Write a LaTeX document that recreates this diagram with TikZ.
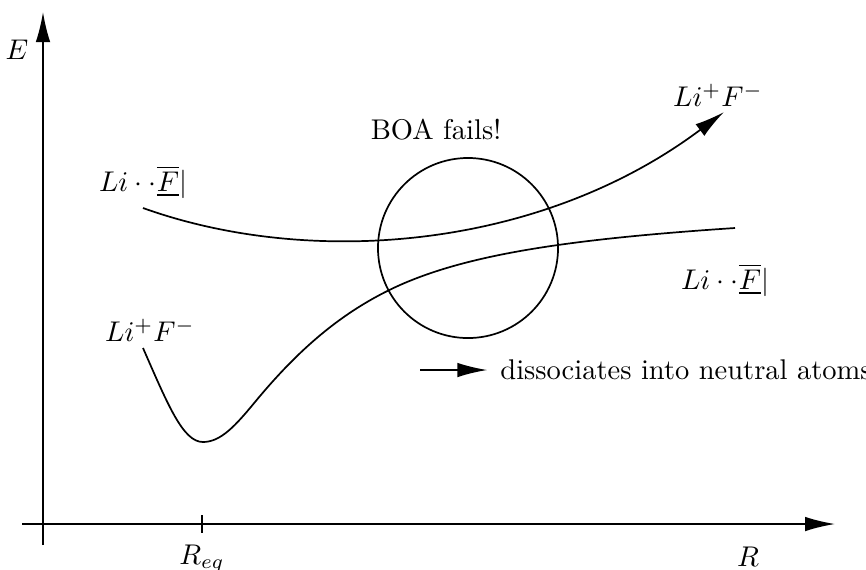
\documentclass[tikz,border=0pt]{standalone}
\usepackage{amsmath,amssymb}
\usepackage{tikz}
\usetikzlibrary{arrows.meta}

\begin{document}
\begin{tikzpicture}[
  x=0.1233mm, y=-0.1233mm,
  >={Latex[length=3.7mm,width=1.8mm]},
  curve/.style={line width=0.6pt},
  axis/.style={line width=0.6pt, ->},
  lbl/.style={inner sep=1pt},
]
\useasboundingbox (0,0) rectangle (866,569);
% axes
\coordinate (xs) at (22,524);
\coordinate (xe) at (835,524);
\coordinate (ys) at (43,545);
\coordinate (ye) at (43,12);
\draw[axis] (xs) -- (xe);
\draw[axis] (ys) -- (ye);
\coordinate (tt) at (202,515);
\coordinate (tb) at (202,533);
\draw[line width=0.6pt] (tt) -- (tb);
\node[lbl] (E) at (17,50) {$E$};
\node[lbl] (R) at (748,557) {$R$};
\node[lbl] (Req) at (202,559) {$R_{eq}$};
% potential curves
\coordinate (u0) at (143,208);
\coordinate (u1) at (724,112);
\draw[curve, ->] (u0) .. controls (310,268) and (540,250) .. (u1);
\coordinate (l0) at (143,348);
\coordinate (lm) at (203,442);
\coordinate (la) at (255,402);
\coordinate (lb) at (400,285);
\coordinate (l1) at (735,228);
\draw[curve] (l0) .. controls (168,405) and (183,442) .. (lm)
  .. controls (221,442) and (236,425) .. (la)
  .. controls (298,350) and (342,311) .. (lb)
  .. controls (470,254) and (570,239) .. (l1);
% crossing region
\node[draw, circle, line width=0.6pt, minimum size=22.2mm, inner sep=0pt] (boa) at (468,248) {};
\node[lbl] (fail) at (436,130) {BOA fails!};
% labels
\node[lbl] (cov1) at (143,182) {$Li\cdot\cdot\underline{\overline{F}}|$};
\node[lbl] (ion1) at (718,95) {$Li^+F^-$};
\node[lbl] (cov2) at (725,280) {$Li\cdot\cdot\underline{\overline{F}}|$};
\node[lbl] (ion2) at (150,330) {$Li^+F^-$};
\node[lbl, anchor=west] (diss) at (497,370) {dissociates into neutral atoms};
\coordinate (a0) at (420,370);
\draw[curve, ->, shorten >=1.2mm] (a0) -- (diss);
\end{tikzpicture}
\end{document}
